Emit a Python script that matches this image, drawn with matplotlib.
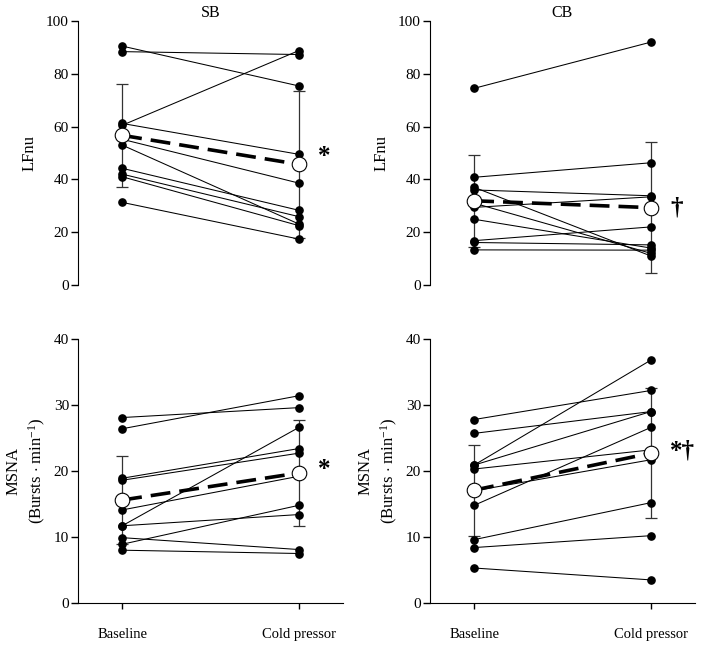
import matplotlib
matplotlib.use("Agg")
import matplotlib.pyplot as plt
import numpy as np

plt.rcParams['font.family'] = ['Liberation Serif', 'DejaVu Serif']
plt.rcParams['mathtext.fontset'] = 'custom'
plt.rcParams['mathtext.rm'] = 'Liberation Serif'
plt.rcParams['mathtext.it'] = 'Liberation Serif:italic'
plt.rcParams['font.size'] = 11

conditions = ['Baseline', 'Cold pressor']

# LFnu, SB group (baseline, cold pressor) per subject
sb_lf_base = [90.5, 88.4, 60.5, 61.2, 55.2, 53.0, 44.2, 42.0, 41.0, 31.3]
sb_lf_cold = [75.4, 87.3, 88.8, 49.5, 38.6, 23.1, 28.3, 25.9, 22.5, 17.4]
sb_lf_mean = [56.7, 45.7]
sb_lf_sd = [19.5, 27.8]

# LFnu, CB group
cb_lf_base = [74.5, 40.8, 37.0, 36.0, 31.0, 29.4, 24.9, 16.8, 16.1, 13.3]
cb_lf_cold = [92.0, 46.3, 11.0, 33.8, 12.0, 33.4, 14.0, 22.0, 15.2, 13.2]
cb_lf_mean = [31.9, 29.3]
cb_lf_sd = [17.5, 24.8]

# MSNA, SB group
sb_ms_base = [28.1, 26.4, 18.9, 18.6, 14.1, 11.7, 11.7, 9.9, 8.9, 8.0]
sb_ms_cold = [29.6, 31.4, 23.4, 22.7, 19.2, 26.6, 13.4, 8.1, 14.8, 7.5]
sb_ms_mean = [15.6, 19.7]
sb_ms_sd = [6.7, 8.05]

# MSNA, CB group
cb_ms_base = [27.8, 25.7, 20.9, 20.9, 20.3, 17.0, 14.8, 9.6, 8.4, 5.3]
cb_ms_cold = [32.2, 29.0, 36.8, 29.0, 23.2, 21.7, 26.6, 15.2, 10.2, 3.5]
cb_ms_mean = [17.1, 22.7]
cb_ms_sd = [6.9, 9.85]

fig = plt.figure(figsize=(7.04, 6.49), dpi=100)
W, H = 704, 649


def make_ax(l, t, r, b):
    return fig.add_axes([l / W, 1 - b / H, (r - l) / W, (b - t) / H])


def draw(ax, base, cold, mean, sd, ymax, step, top, mark, marky):
    x = np.arange(len(conditions))
    for b, c in zip(base, cold):
        ax.plot(x, [b, c], color='black', lw=0.75, marker='o', ms=5.2,
                mfc='black', mec='black', zorder=3)
    ax.errorbar(x, mean, yerr=sd, fmt='none', ecolor='#333333',
                elinewidth=0.9, capsize=4, capthick=0.9, zorder=2)
    ax.plot(x, mean, color='black', lw=2.6, ls=(0, (5.5, 2.5)), zorder=4)
    ax.plot(x, mean, ls='none', marker='o', ms=10.5, mfc='white',
            mec='black', mew=0.8, zorder=5)
    ax.set_xlim(-0.25, 1.25)
    ax.set_ylim(0, ymax)
    ax.set_yticks(np.arange(0, ymax + 1, step))
    ax.spines['top'].set_visible(False)
    ax.spines['right'].set_visible(False)
    ax.tick_params(axis='y', direction='out', length=5, width=1, pad=1.5)
    if top:
        ax.spines['bottom'].set_visible(False)
        ax.set_xticks([])
    else:
        ax.set_xticks(x)
        ax.set_xticklabels(conditions, fontsize=10.5)
        ax.tick_params(axis='x', direction='out', length=4, width=1, pad=14)
    ax.text(1.11, marky, mark, fontsize=18, fontweight='bold', ha='left',
            va='center', clip_on=False)
    ax.patch.set_alpha(0)


ax1 = make_ax(78, 21, 343, 285)
draw(ax1, sb_lf_base, sb_lf_cold, sb_lf_mean, sb_lf_sd, 100, 20, True, '*', 48.5)
ax1.set_title('SB', fontsize=11.5, pad=3)
ax1.set_ylabel('LFnu', labelpad=6, fontsize=12)

ax2 = make_ax(430, 21, 695, 285)
draw(ax2, cb_lf_base, cb_lf_cold, cb_lf_mean, cb_lf_sd, 100, 20, True, '\u2020', 29.0)
ax2.set_title('CB', fontsize=11.5, pad=3)
ax2.set_ylabel('LFnu', labelpad=6, fontsize=12)

ax3 = make_ax(78, 339, 343, 603)
draw(ax3, sb_ms_base, sb_ms_cold, sb_ms_mean, sb_ms_sd, 40, 10, False, '*', 20.3)
ax3.set_ylabel('MSNA\n(Bursts $\\cdot$ min$^{-1}$)', labelpad=4, fontsize=12,
               linespacing=1.35)

ax4 = make_ax(430, 339, 695, 603)
draw(ax4, cb_ms_base, cb_ms_cold, cb_ms_mean, cb_ms_sd, 40, 10, False, '*\u2020', 23.0)
ax4.set_ylabel('MSNA\n(Bursts $\\cdot$ min$^{-1}$)', labelpad=4, fontsize=12,
               linespacing=1.35)

fig.savefig('out.png', dpi=100)
